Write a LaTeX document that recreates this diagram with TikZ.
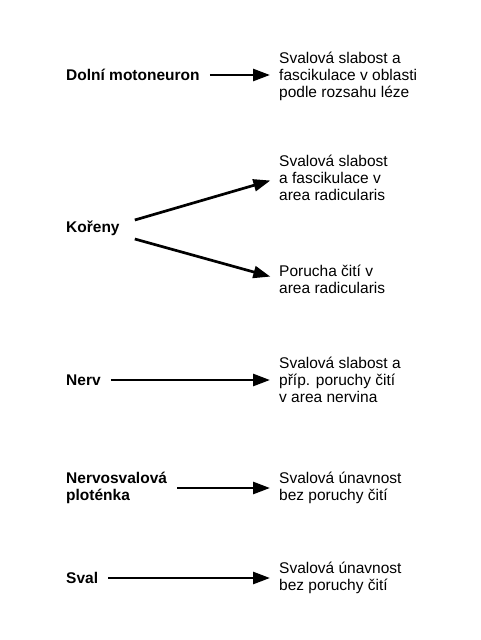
\documentclass[tikz,border=0pt]{standalone}
\usepackage{fontspec}
\setmainfont{Liberation Sans}
\usetikzlibrary{calc,arrows.meta}

\begin{document}
\begin{tikzpicture}[x=1pt,y=-1pt,
  level/.style={anchor=west,inner sep=0pt,align=left,
    font=\fontsize{15.5}{17}\selectfont\bfseries},
  effect/.style={anchor=west,inner sep=0pt,align=left,
    font=\fontsize{15.5}{17}\selectfont},
  link/.style={line width=2.7pt,-{Triangle[length=17pt,width=12pt]},
    shorten <=10pt,shorten >=9pt}]
  % Configurable parameters
  \def\leftx{66}
  \def\rightx{279}
  %
  \useasboundingbox (0,0) rectangle (480,640);
  %
  % Levels of the lesion
  \node[level] (motoneuron) at (\leftx,75) {Dolní motoneuron};
  \node[level] (koreny) at (\leftx,228) {Kořeny};
  \node[level] (nerv) at (\leftx,380) {Nerv};
  \node[level] (ploténka) at (\leftx,488) {Nervosvalová\\ploténka};
  \node[level] (sval) at (\leftx,578) {Sval};
  %
  % Symptoms
  \node[effect] (slabost) at (\rightx,76)
    {Svalová slabost a\\fascikulace v oblasti\\podle rozsahu léze};
  \node[effect] (radix) at (\rightx,178)
    {Svalová slabost\\a fascikulace v\\area radicularis};
  \node[effect] (citi) at (\rightx,279)
    {Porucha čití v\\area radicularis};
  \node[effect] (nervina) at (\rightx,380)
    {Svalová slabost a\\příp. poruchy čití\\v area nervina};
  \node[effect] (unava) at (\rightx,488)
    {Svalová únavnost\\bez poruchy čití};
  \node[effect] (unavasval) at (\rightx,578)
    {Svalová únavnost\\bez poruchy čití};
  %
  % Arrows
  \draw[link] (motoneuron.east) -- (motoneuron.east -| slabost.west);
  \coordinate (koreny up) at ($(koreny.east)+(15,-8)$);
  \coordinate (koreny down) at ($(koreny.east)+(15,11)$);
  \draw[link,shorten <=0pt] (koreny up) -- (radix.west);
  \draw[link,shorten <=0pt] (koreny down) -- (citi.west);
  \draw[link] (nerv.east) -- (nervina.west);
  \draw[link] (ploténka.east) -- (unava.west);
  \draw[link] (sval.east) -- (unavasval.west);
  %
\end{tikzpicture}
\end{document}
